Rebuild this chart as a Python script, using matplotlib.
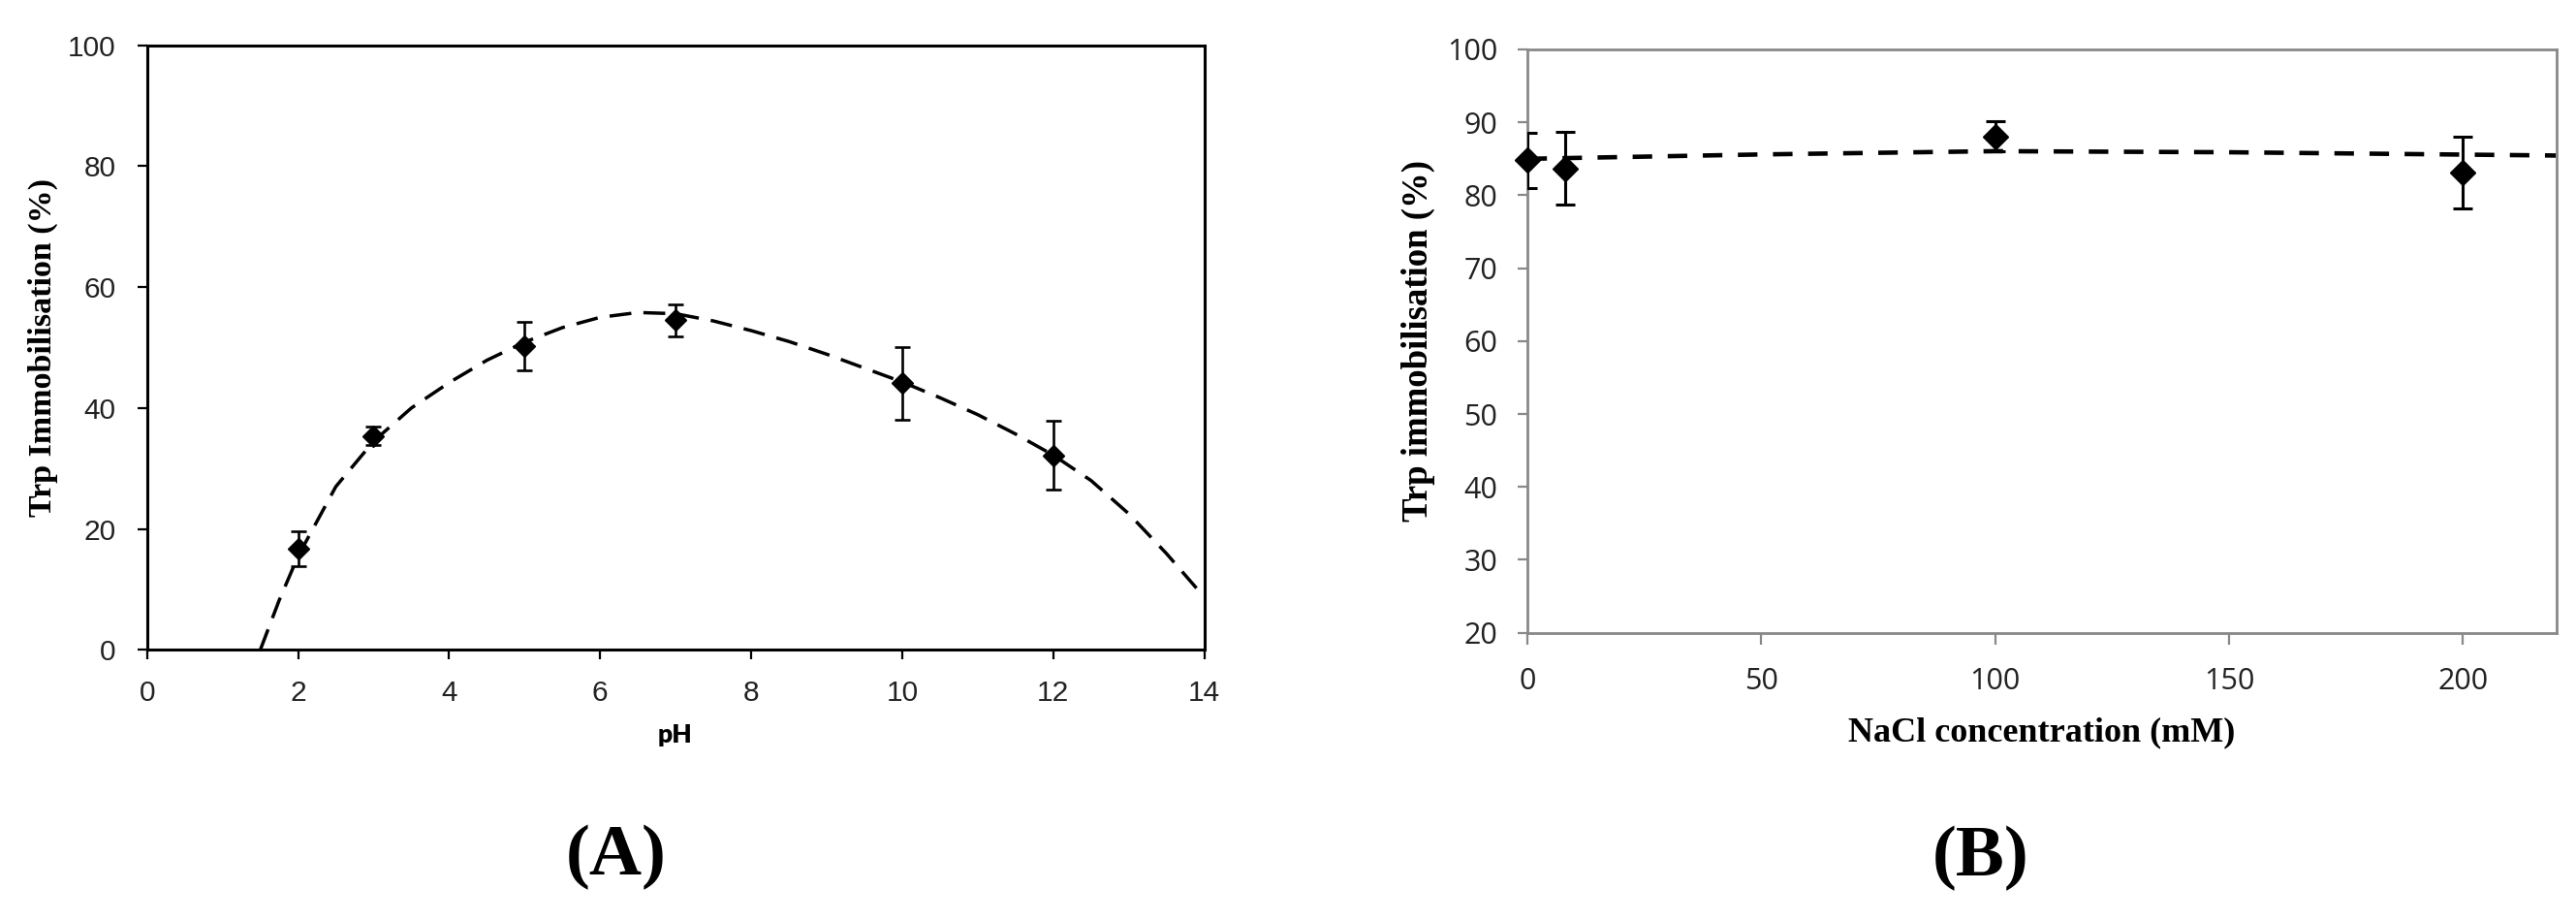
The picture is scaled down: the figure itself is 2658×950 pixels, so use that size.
import matplotlib
matplotlib.use("Agg")
import matplotlib.pyplot as plt

# ---------------- data ----------------
ph_values = [2, 3, 5, 7, 10, 12]
ph_immob = [16.7, 35.4, 50.2, 54.5, 44.1, 32.2]
ph_err = [2.9, 1.5, 4.0, 2.7, 6.0, 5.7]

# dashed trend line of panel A
ph_trend_x = [1.5, 1.75, 2.0, 2.5, 3.0, 3.5, 4.0, 4.5, 5.0, 5.5, 6.0, 6.5, 7.0,
              7.5, 8.0, 8.5, 9.0, 9.5, 10.0, 10.5, 11.0, 11.5, 12.0, 12.5,
              13.0, 13.5, 14.0]
ph_trend_y = [0.0, 8.2, 15.5, 27.0, 34.5, 40.0, 44.2, 47.9, 50.9, 53.3, 55.0,
              55.8, 55.6, 54.4, 52.8, 51.0, 48.9, 46.6, 44.3, 41.7, 38.9, 35.7,
              32.2, 28.0, 22.5, 15.9, 8.7]

nacl_values = [0, 8, 100, 200]
nacl_immob = [84.8, 83.7, 88.1, 83.1]
nacl_err = [3.8, 5.0, 2.0, 4.9]

nacl_trend_x = [0, 50, 100, 150, 220]
nacl_trend_y = [85.0, 85.6, 86.05, 85.9, 85.45]

ph_ticks = [0, 2, 4, 6, 8, 10, 12, 14]
ph_yticks = [0, 20, 40, 60, 80, 100]
nacl_ticks = [0, 50, 100, 150, 200]
nacl_yticks = [20, 30, 40, 50, 60, 70, 80, 90, 100]

# ---------------- figure ----------------
W, H = 2658, 950
fig = plt.figure(figsize=(W / 100, H / 100), dpi=100)


def px_axes(x0, y0, x1, y1):
    return fig.add_axes([x0 / W, 1 - y1 / H, (x1 - x0) / W, (y1 - y0) / H])


# ---------------- panel A ----------------
ax1 = px_axes(151.7, 46.7, 1242.7, 670.3)
ax1.set_xlim(0, 14)
ax1.set_ylim(0, 100)
ax1.set_xticks(ph_ticks)
ax1.set_yticks(ph_yticks)
for sp in ax1.spines.values():
    sp.set_linewidth(2.2)
    sp.set_color("black")
ax1.tick_params(direction="out", length=7, width=1.6, color="black",
                labelsize=21.5, labelcolor="#222222")
ax1.tick_params(axis="x", pad=15)
ax1.tick_params(axis="y", pad=16)
for lab in ax1.get_xticklabels() + ax1.get_yticklabels():
    lab.set_family("Liberation Sans")

ax1.plot(ph_trend_x, ph_trend_y, color="black", lw=2.5,
         ls=(0, (6.5, 3.6)), zorder=2)
ax1.errorbar(ph_values, ph_immob, yerr=ph_err, fmt="D", color="black",
             ms=11.5, capsize=6, elinewidth=1.9, capthick=1.9, zorder=3)

# ---------------- panel B ----------------
ax2 = px_axes(1576, 51, 2637.7, 652.7)
ax2.set_xlim(0, 220)
ax2.set_ylim(20, 100)
ax2.set_xticks(nacl_ticks)
ax2.set_yticks(nacl_yticks)
for sp in ax2.spines.values():
    sp.set_linewidth(2.0)
    sp.set_color("#888888")
ax2.tick_params(direction="out", width=1.6, color="#888888",
                labelsize=22, labelcolor="#222222")
ax2.tick_params(axis="x", length=8.6, pad=17)
ax2.tick_params(axis="y", length=7.2, pad=15)
for lab in ax2.get_xticklabels() + ax2.get_yticklabels():
    lab.set_family("Open Sans")

ax2.plot(nacl_trend_x, nacl_trend_y, color="black", lw=3.3,
         ls=(0, (4.4, 3.5)), zorder=2)
eb = ax2.errorbar(nacl_values, nacl_immob, yerr=nacl_err, fmt="D",
                  color="black", ms=13.5, capsize=7, elinewidth=2.2,
                  capthick=2.2, zorder=3)
eb[0].set_clip_on(False)

# ---------------- labels ----------------
serif_bold = dict(family="Liberation Serif", weight="bold", color="black",
                  ha="center", va="center")
fig.text(44.6 / W, 1 - 358.5 / H, "Trp Immobilisation (%)", rotation=90,
         size=24.5, **serif_bold)
fig.text(1463.7 / W, 1 - 351.9 / H, "Trp immobilisation (%)", rotation=90,
         size=26.5, **serif_bold)
fig.text(697 / W, 1 - 758 / H, "pH", family="Lato", weight="heavy",
         size=19, color="black", ha="center", va="center")
fig.text(2107 / W, 1 - 756 / H, "NaCl concentration (mM)", size=26,
         **serif_bold)
fig.text(636 / W, 1 - 884 / H, "(A)", size=54, **serif_bold)
fig.text(2044 / W, 1 - 885 / H, "(B)", size=54, **serif_bold)

fig.savefig("out.png", dpi=100)
